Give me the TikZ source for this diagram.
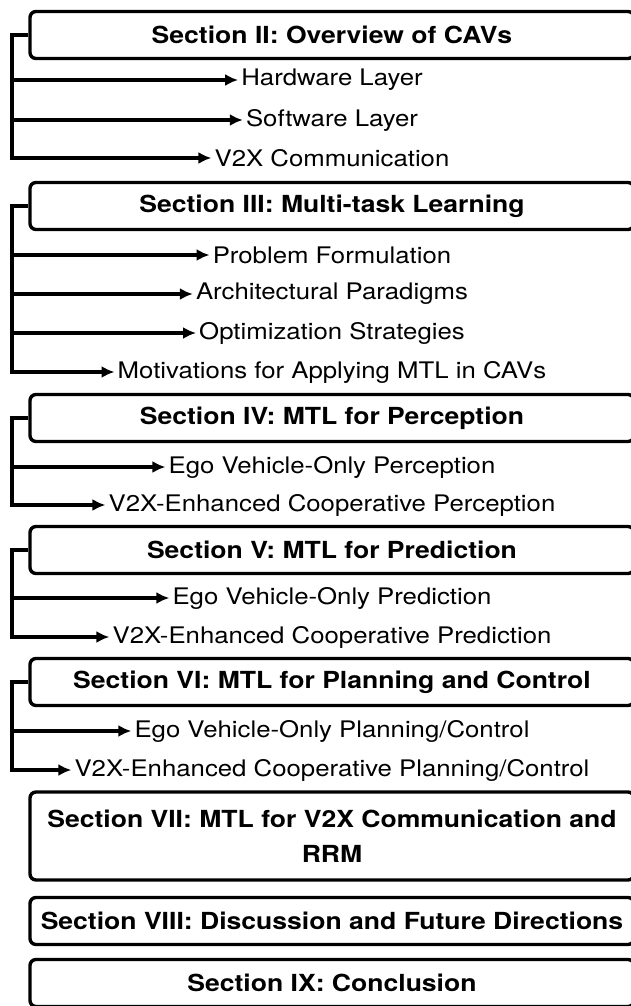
\documentclass[tikz,border=0pt]{standalone}
\usepackage{fontspec}
\setmainfont{TeX Gyre Heros}[FakeStretch=1.13]
\usepackage{tikz}
\usetikzlibrary{arrows.meta}

\begin{document}
\begin{tikzpicture}[x=1pt,y=-1pt,
  secbox/.style={draw,line width=3.4pt,rounded corners=6pt,minimum width=604pt,minimum height=47pt,inner sep=0pt,align=center,font=\fontsize{23.5}{35}\selectfont\bfseries},
  subitem/.style={inner sep=3pt,font=\fontsize{22.8}{28}\selectfont},
  leaf/.style={line width=3.4pt,-{Latex[length=13pt,width=12pt]}}]
  \useasboundingbox (0,0) rectangle (631,1006);
  \coordinate (rail) at (12,0);

  %section II
  \node[secbox] (s2) at (332,35) {Section II: Overview of CAVs};
  \node[subitem] (s2a) at (332,80) {Hardware Layer};
  \node[subitem] (s2b) at (332,120) {Software Layer};
  \node[subitem] (s2c) at (332,158) {V2X Communication};
  \draw[leaf] (s2.west) -- (rail |- s2) -- (rail |- s2c) -- (s2c.west);
  \foreach \n in {s2a,s2b} \draw[leaf] (rail |- \n) -- (\n.west);

  %section III
  \node[secbox] (s3) at (332,206) {Section III: Multi-task Learning};
  \node[subitem] (s3a) at (332,255) {Problem Formulation};
  \node[subitem] (s3b) at (332,294) {Architectural Paradigms};
  \node[subitem] (s3c) at (332,333) {Optimization Strategies};
  \node[subitem] (s3d) at (332,372) {Motivations for Applying MTL in CAVs};
  \draw[leaf] (s3.west) -- (rail |- s3) -- (rail |- s3d) -- (s3d.west);
  \foreach \n in {s3a,s3b,s3c} \draw[leaf] (rail |- \n) -- (\n.west);

  %section IV
  \node[secbox] (s4) at (332,418) {Section IV: MTL for Perception};
  \node[subitem] (s4a) at (332,467) {Ego Vehicle-Only Perception};
  \node[subitem] (s4b) at (332,505) {V2X-Enhanced Cooperative Perception};
  \draw[leaf] (s4.west) -- (rail |- s4) -- (rail |- s4b) -- (s4b.west);
  \draw[leaf] (rail |- s4a) -- (s4a.west);

  %section V
  \node[secbox] (s5) at (332,550) {Section V: MTL for Prediction};
  \node[subitem] (s5a) at (332,598) {Ego Vehicle-Only Prediction};
  \node[subitem] (s5b) at (332,637) {V2X-Enhanced Cooperative Prediction};
  \draw[leaf] (s5.west) -- (rail |- s5) -- (rail |- s5b) -- (s5b.west);
  \draw[leaf] (rail |- s5a) -- (s5a.west);

  %section VI
  \node[secbox] (s6) at (332,682) {Section VI: MTL for Planning and Control};
  \node[subitem] (s6a) at (332,731) {Ego Vehicle-Only Planning/Control};
  \node[subitem] (s6b) at (332,770) {V2X-Enhanced Cooperative Planning/Control};
  \draw[leaf] (s6.west) -- (rail |- s6) -- (rail |- s6b) -- (s6b.west);
  \draw[leaf] (rail |- s6a) -- (s6a.west);

  %sections without subsections
  \node[secbox,minimum height=88pt] (s7) at (332,836) {Section VII: MTL for V2X Communication and\\RRM};
  \node[secbox] (s8) at (332,921) {Section VIII: Discussion and Future Directions};
  \node[secbox] (s9) at (332,983) {Section IX: Conclusion};
\end{tikzpicture}
\end{document}
